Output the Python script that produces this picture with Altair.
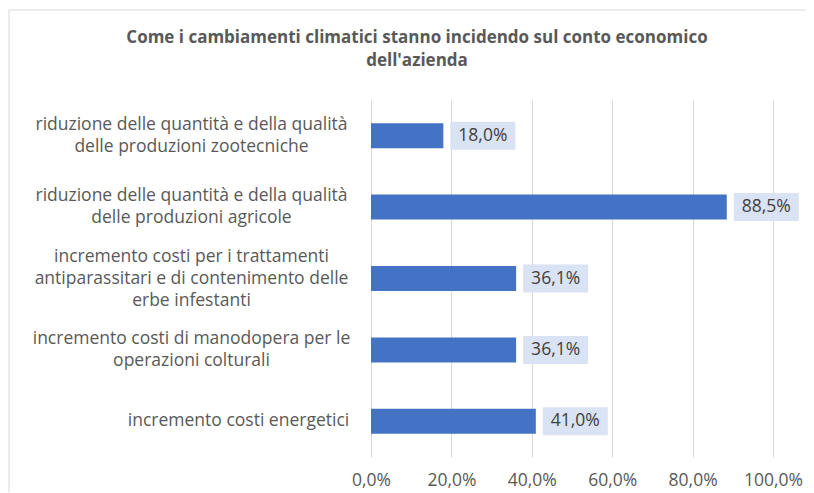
import altair as alt
import pandas as pd

categories = [
    "riduzione delle quantità e della qualità|delle produzioni zootecniche",
    "riduzione delle quantità e della qualità|delle produzioni agricole",
    "incremento costi per i trattamenti|antiparassitari e di contenimento delle|erbe infestanti",
    "incremento costi di manodopera per le|operazioni colturali",
    "incremento costi energetici",
]
values = [18.0, 88.5, 36.1, 36.1, 41.0]
x_ticks = [0, 20, 40, 60, 80, 100]
title_lines = ["Come i cambiamenti climatici stanno incidendo sul conto economico", "dell'azienda"]

df = pd.DataFrame({"categoria": categories, "valore": values})
df["etichetta"] = df["valore"].map(lambda v: f"{v:.1f}%".replace(".", ","))

FONT = "Open Sans"
GRID = "#D9D9D9"
TXT = "#595959"
FS = 17.5

x_enc = alt.X(
    "valore:Q",
    scale=alt.Scale(domain=[0, 100], nice=False),
    axis=alt.Axis(
        values=x_ticks,
        labelExpr="replace(format(datum.value, '.1f'), '.', ',') + '%'",
        title=None,
        domain=False,
        ticks=False,
        grid=True,
        gridColor=GRID,
        gridWidth=1,
        labelPadding=14,
        labelFontSize=FS,
        labelColor=TXT,
        labelFont=FONT,
        labelOverlap=False,
        labelFlush=False,
    ),
)
y_enc = alt.Y(
    "categoria:N",
    sort=categories,
    scale=alt.Scale(paddingInner=0, paddingOuter=0),
    axis=alt.Axis(
        title=None,
        domain=False,
        ticks=False,
        labelExpr="split(datum.label, '|')",
        labelAlign="center",
        labelBaseline="middle",
        labelPadding=alt.expr("datum.value == 'incremento costi energetici' ? 133 : 180"),
        labelOffset=alt.expr("-(length(split(datum.value, '|')) - 1) * 11"),
        labelFontSize=FS,
        labelLineHeight=22,
        labelColor=TXT,
        labelFont=FONT,
        labelLimit=0,
        labelOverlap=False,
    ),
)

base = alt.Chart(df)

bars = base.mark_bar(size=25, color="#4472C4").encode(x=x_enc, y=y_enc)
boxes = base.mark_bar(size=28, color="#DAE3F3", xOffset=7, x2Offset=72).encode(
    x=x_enc, x2="valore:Q", y=y_enc
)
labels = base.mark_text(
    dx=39.5, align="center", baseline="middle", fontSize=FS, color="#404040", font=FONT
).encode(x=x_enc, y=y_enc, text="etichetta:N")

frame = alt.Chart(pd.DataFrame({"f": [0]})).mark_rect(
    fill=None, stroke=GRID, strokeWidth=1
).encode(
    x=alt.value(-362), x2=alt.value(445), y=alt.value(-90), y2=alt.value(400)
)

chart = (
    alt.layer(frame, boxes, bars, labels)
    .properties(
        width=402,
        height=357,
        autosize=alt.AutoSizeParams(type="none"),
        padding={"left": 363, "top": 92, "right": 33, "bottom": 35},
        title=alt.TitleParams(
            text=title_lines,
            font=FONT,
            fontSize=17,
            fontWeight="bold",
            color=TXT,
            lineHeight=23,
            anchor="middle",
            frame="group",
            dx=-155,
            offset=-60,
        ),
    )
    .configure_view(stroke=None)
)

chart.save("out.html", embed_options={"renderer": "svg", "actions": False})
